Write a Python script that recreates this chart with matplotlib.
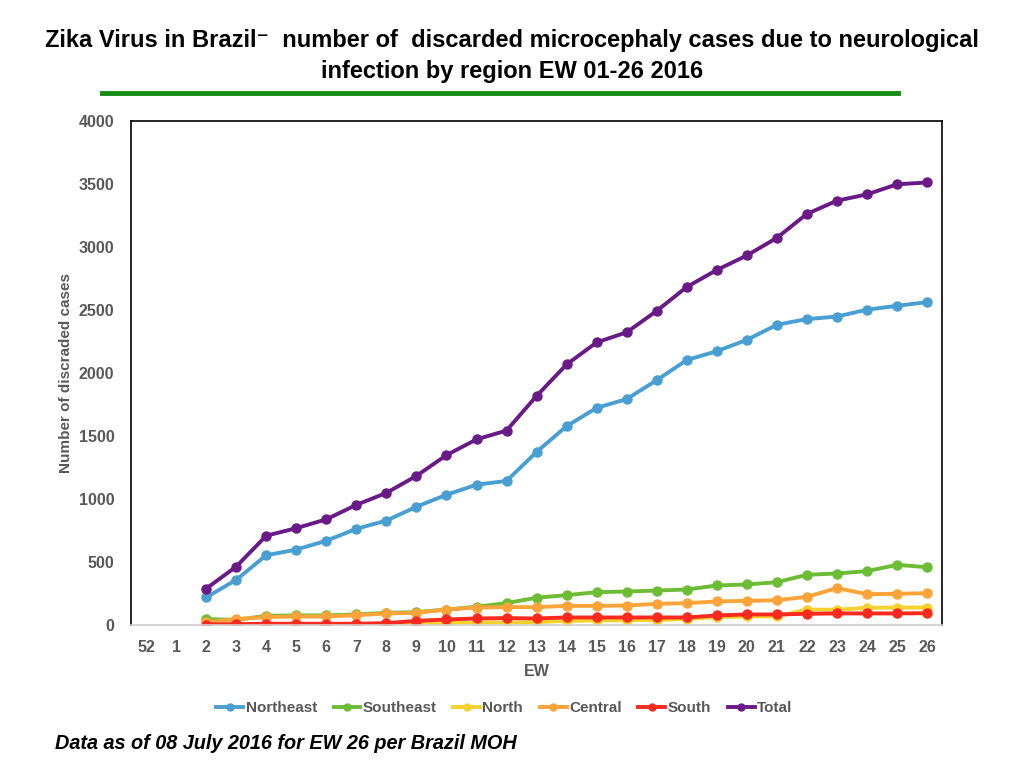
import matplotlib

matplotlib.use("Agg")
import matplotlib.pyplot as plt  # noqa: E402
from matplotlib.lines import Line2D  # noqa: E402

plt.rcParams["font.family"] = ["Liberation Sans", "DejaVu Sans"]

# 週ラベル（52, 1 はデータなし）
weeks = ["52", "1"] + [str(w) for w in range(2, 27)]
data_weeks = [str(w) for w in range(2, 27)]

northeast = [220, 360, 555, 600, 670, 765, 830, 940, 1035, 1115, 1145, 1375,
             1580, 1725, 1795, 1945, 2105, 2175, 2265, 2385, 2430, 2450, 2505,
             2535, 2565]
southeast = [48, 42, 74, 77, 77, 85, 98, 103, 124, 146, 175, 218, 238, 262,
             267, 275, 283, 315, 323, 341, 400, 410, 429, 479, 460]
north = [5, 6, 8, 8, 8, 8, 10, 13, 18, 21, 21, 24, 34, 37, 40, 40, 50, 64, 69,
         69, 124, 122, 138, 140, 140]
central = [24, 48, 64, 69, 69, 79, 93, 98, 124, 140, 143, 143, 153, 153, 156,
           169, 175, 188, 193, 198, 225, 294, 246, 249, 254]
south = [5, 8, 11, 11, 11, 11, 16, 34, 45, 53, 56, 53, 61, 61, 61, 61, 61, 77,
         85, 85, 90, 93, 93, 93, 95]
total = [290, 465, 710, 770, 840, 955, 1050, 1185, 1350, 1475, 1545, 1820,
         2070, 2245, 2325, 2495, 2685, 2820, 2935, 3075, 3265, 3370, 3420,
         3500, 3515]

series = [
    ("Northeast", northeast, "#4a9fd2"),
    ("Southeast", southeast, "#6cbd35"),
    ("North", north, "#f4d12f"),
    ("Central", central, "#fca43a"),
    ("South", south, "#fc2a1e"),
    ("Total", total, "#6a1a86"),
]

fig = plt.figure(figsize=(10.24, 7.68), dpi=100)
ax = fig.add_axes([0.128, 0.186, 0.792, 0.656])

xpos = {w: i for i, w in enumerate(weeks)}
xs = [xpos[w] for w in data_weeks]
for name, vals, color in series:
    ax.plot(xs, vals, color=color, lw=2.8, marker="o", ms=6.5, label=name)

ax.set_xlim(-0.5, len(weeks) - 0.5)
ax.set_ylim(0, 4000)
ax.set_yticks(range(0, 4001, 500))
ax.set_xticks(range(len(weeks)))
ax.set_xticklabels(weeks)

gray = "#595959"
ax.tick_params(axis="both", length=0, labelsize=11.5, labelcolor=gray)
ax.tick_params(axis="x", pad=11)
ax.tick_params(axis="y", pad=12)
for lbl in ax.get_xticklabels() + ax.get_yticklabels():
    lbl.set_fontweight("bold")
for side in ["left", "top", "right"]:
    ax.spines[side].set_color("black")
    ax.spines[side].set_linewidth(1.2)
ax.spines["bottom"].set_color("#d0d0d0")
ax.spines["bottom"].set_linewidth(1.2)

ax.set_xlabel("EW", fontsize=11.5, fontweight="bold", color=gray, labelpad=6)
ax.set_ylabel("Number of discraded cases", fontsize=11, fontweight="bold",
              color=gray, labelpad=4)

handles = [Line2D([0], [0], color=c, lw=2.8, marker="o", ms=5)
           for _, _, c in series]
leg = fig.legend(handles, [n for n, _, _ in series], loc="center",
                 bbox_to_anchor=(0.4925, 0.078), ncol=6, frameon=False,
                 fontsize=11, handlelength=1.75, handletextpad=0.15,
                 columnspacing=1.1)
for t in leg.get_texts():
    t.set_color(gray)
    t.set_fontweight("bold")

fig.text(0.5, 0.947, "Zika Virus in Brazil\u207b  number of  discarded microcephaly "
         "cases due to neurological", ha="center", va="center", fontsize=17,
         fontweight="bold")
fig.text(0.5, 0.907, "infection by region EW 01-26 2016", ha="center",
         va="center", fontsize=17, fontweight="bold")
fig.add_artist(Line2D([0.1, 0.877], [0.879, 0.879], color="#158a15", lw=3.5))

fig.text(0.054, 0.032, "Data as of 08 July 2016 for EW 26 per Brazil MOH",
         ha="left", va="center", fontsize=14.3, fontweight="bold",
         fontstyle="italic")

fig.savefig("out.png", dpi=100)
